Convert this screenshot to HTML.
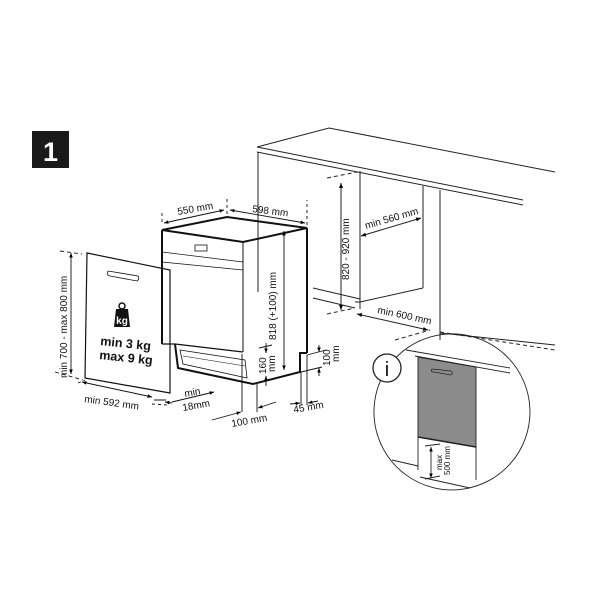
<!DOCTYPE html>
<html><head><style>html,body{margin:0;padding:0;background:#fff}svg{display:block}text{font-family:"Liberation Sans",sans-serif;fill:#111}</style></head>
<body>
<svg width="600" height="600" viewBox="0 0 600 600" xmlns="http://www.w3.org/2000/svg">
<defs>
<marker id="a" viewBox="0 0 10 10" refX="10" refY="5" markerWidth="5" markerHeight="5" orient="auto-start-reverse"><path d="M0,1L10,5L0,9z" fill="#000"/></marker>
</defs>
<rect x="32" y="131" width="37" height="37" fill="#1a1a1a"/>
<text x="50.5" y="161" font-size="27" font-weight="bold" text-anchor="middle" style="fill:#fff">1</text>

<g fill="none" stroke="#222" stroke-width="1">
<path d="M257,147 L329,128 L555,172"/>
<path d="M257,147 L523,200 M257,152 L523,205"/>
<path d="M258,152 L258,292"/>
<path d="M360,171 L360,302 M423,186 L423,288 M440,190 L440,340"/>
<path d="M360,302 L423,288"/>
<path d="M313,288 L360,299 M313,298 L355,308"/>
<path d="M355,302 L360,302 L360,309" />
<path d="M341,183 L341,310" marker-start="url(#a)" marker-end="url(#a)"/>
<path d="M327,178 L357,172 M327,314 L355,308" stroke-dasharray="4,3"/>
<path d="M361,236 L421,218" marker-start="url(#a)" marker-end="url(#a)"/>
<path d="M357,314 L428,330" marker-start="url(#a)" marker-end="url(#a)"/>
<path d="M395,340 L430,330 M440,332 L555,350" stroke-dasharray="4,3"/>
<path d="M440,333 L555,345"/>
</g>
<text transform="translate(349,280) rotate(-90)" font-size="10">820 - 920 mm</text>
<text transform="translate(366,229) rotate(-16)" font-size="10">min 560 mm</text>
<text transform="translate(377,313) rotate(12)" font-size="10">min 600 mm</text>

<g fill="none" stroke="#111">
<path d="M162,230 L227,217 L307,228 L243,242 Z" stroke-width="2"/>
<path d="M162,230 L162,344 M307,228 L307,353" stroke-width="2"/>
<path d="M243,242 L243,352" stroke-width="1"/>
<path d="M162,252 L243,262 M162,262 L243,270" stroke-width="0.7"/>
<path d="M175,344 L178,368 L253,384 L300,372 L300,353 L307,353" stroke-width="2"/>
<path d="M162,344 L175,344 M175,344 L243,352" stroke-width="1.2"/>
<path d="M180,350 L245,360 L247,378 L183,364 Z" stroke-width="0.8"/>
<path d="M183,356 L245,366" stroke-width="0.6"/>
<rect x="195" y="245" width="12" height="6" stroke-width="0.8"/>
<path d="M87,253 L170,270 L170,393 L85,378 Z" stroke-width="1.2"/>
<path d="M108,271 Q106,275 110,276 L137,281 Q140,279 138,276 L108,271" stroke-width="0.8"/>
</g>
<g>
<circle cx="122" cy="306" r="3" fill="none" stroke="#111" stroke-width="1.5"/>
<path d="M116,309 L128,309 L130,327 L114,327 Z" fill="#111"/>
<text x="122" y="324" font-size="10" font-weight="bold" text-anchor="middle" style="fill:#fff">kg</text>
</g>
<text x="100" y="345" font-size="12.5" font-weight="bold" transform="rotate(6 100 345)">min  3 kg</text>
<text x="99" y="359" font-size="12.5" font-weight="bold" transform="rotate(6 99 359)">max 9 kg</text>

<g fill="none" stroke="#111" stroke-width="0.9">
<path d="M71,253 L71,374" marker-start="url(#a)" marker-end="url(#a)"/>
<path d="M60,251 L82,254 M55,372 L83,380" stroke-dasharray="4,3"/>
<path d="M82,382 L152,397" marker-start="url(#a)" marker-end="url(#a)"/>
<path d="M78,383 L85,380 M152,404 L168,405" stroke-dasharray="3,3"/>
<path d="M154,400 L166,400 M172,402 L214,392" marker-end="url(#a)"/>
<path d="M165,402 L172,403" marker-start="url(#a)"/>
<path d="M242,354 L242,412 M257,384 L257,412"/>
<path d="M212,420 L241,412" marker-end="url(#a)"/>
<path d="M258,408 L276,402" marker-start="url(#a)"/>
<path d="M301,372 L301,405 M307,355 L307,405"/>
<path d="M290,404 L300,403" marker-end="url(#a)"/>
<path d="M308,403 L318,401" marker-start="url(#a)"/>
<path d="M162,222 L162,212 M227,214 L227,198 M307,225 L307,200" stroke-dasharray="3,3"/>
<path d="M164,223 L224,210" marker-start="url(#a)" marker-end="url(#a)"/>
<path d="M230,210 L305,223" marker-start="url(#a)" marker-end="url(#a)"/>
<path d="M284,231 L284,370" marker-start="url(#a)" marker-end="url(#a)"/>
<path d="M266,343 L266,353" marker-end="url(#a)"/>
<path d="M266,386 L266,376" marker-end="url(#a)"/>
<path d="M259,348 L272,345"/>
<path d="M319,345 L319,352" marker-end="url(#a)"/>
<path d="M319,376 L319,368" marker-end="url(#a)"/>
<path d="M307,355 L326,350 M301,372 L322,367"/>
</g>
<text transform="translate(67,378) rotate(-90)" font-size="10">min 700 - max 800 mm</text>
<text transform="translate(84,402) rotate(8)" font-size="10">min 592 mm</text>
<text transform="translate(185,397) rotate(-10)" font-size="10">min</text>
<text transform="translate(183,411) rotate(-10)" font-size="10">18mm</text>
<text transform="translate(232,427) rotate(-10)" font-size="10">100 mm</text>
<text transform="translate(294,413) rotate(-10)" font-size="10">45 mm</text>
<text transform="translate(178,215) rotate(-10)" font-size="10">550 mm</text>
<text transform="translate(252,212) rotate(7)" font-size="10">598 mm</text>
<text transform="translate(276,340) rotate(-90)" font-size="10">818 (+100) mm</text>
<text transform="translate(266,374) rotate(-90)" font-size="10">160</text>
<text transform="translate(275,372) rotate(-90)" font-size="10">mm</text>
<text transform="translate(330,366) rotate(-90)" font-size="10">100</text>
<text transform="translate(339,362) rotate(-90)" font-size="10">mm</text>

<g fill="none" stroke="#222" stroke-width="0.9">
<path d="M402,352 A78,78 0 1 0 524,382 A78,78 0 0 0 402,352"/>
<path d="M406,350 L510,368 M415,356 L510,373"/>
<path d="M418,357 L476,367 L476,447 L418,437 Z" fill="#8c8c8c"/>
<path d="M418,437 L476,447" stroke-width="1.5"/>
<path d="M432,369 Q430,372 434,372 L451,375 Q454,373 451,371 Z" stroke-width="0.7"/>
<path d="M418,437 L418,470 M476,447 L476,480"/>
<path d="M392,460 L418,466 M420,477 L470,488"/>
<path d="M431,447 L431,478" marker-start="url(#a)" marker-end="url(#a)"/>
<path d="M425,446 L440,444 M425,479 L440,476"/>
<circle cx="387" cy="368" r="14" stroke-width="1.3" fill="#fff"/>
</g>
<text x="387" y="376" font-size="20" text-anchor="middle" font-family="Liberation Serif">i</text>
<text transform="translate(442,470) rotate(-90)" font-size="8">max</text>
<text transform="translate(450,475) rotate(-90)" font-size="8">500 mm</text>
</svg>
</body></html>
